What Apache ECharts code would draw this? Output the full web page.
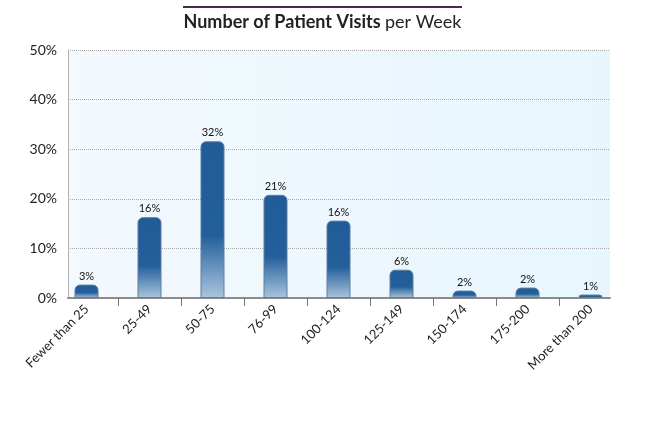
<!DOCTYPE html>
<html>
<head>
<meta charset="utf-8">
<script src="https://cdn.jsdelivr.net/npm/echarts@6/dist/echarts.min.js"></script>
<style>html,body{margin:0;padding:0;background:#fff}#c{width:645px;height:439px}</style>
</head>
<body>
<div id="c"></div>
<script>
var categories = ['Fewer than 25','25-49','50-75','76-99','100-124','125-149','150-174','175-200','More than 200'];
var visitShare = [2.7, 16.3, 31.6, 20.8, 15.6, 5.7, 1.5, 2.1, 0.7];
var yTicks = [0, 10, 20, 30, 40, 50];

var FONT = 'Lato, "Open Sans", sans-serif';
var chart = echarts.init(document.getElementById('c'), null, {renderer: 'canvas'});
chart.setOption({
  animation: false,
  textStyle: {fontFamily: FONT},
  title: {
    text: '{b|Number of Patient Visits} {n|per Week}',
    left: 'center', top: 8,
    textStyle: {
      rich: {
        b: {fontFamily: FONT, fontSize: 18, fontWeight: 'bold', color: '#222'},
        n: {fontFamily: FONT, fontSize: 18, fontWeight: 'normal', color: '#222'}
      }
    }
  },
  graphic: [{
    type: 'line', shape: {x1: 183, y1: 7, x2: 462, y2: 7},
    style: {stroke: '#4a2a4e', lineWidth: 2}
  }],
  grid: [
    {left: 68, right: 35, top: 50, bottom: 141, show: true, borderWidth: 0,
      backgroundColor: new echarts.graphic.LinearGradient(0, 0, 1, 0, [
        {offset: 0, color: '#f3f9fd'}, {offset: 1, color: '#e7f6fd'}])},
    {left: 55, right: 23, top: 50, bottom: 141},
    {left: 118, right: 86, top: 50, bottom: 141}
  ],
  xAxis: [
    {gridIndex: 0, type: 'category', data: categories, axisLabel: {show: false}, axisTick: {show: false},
      axisLine: {lineStyle: {color: '#8c8c8c', width: 2}}},
    {gridIndex: 1, type: 'category', data: categories, axisLine: {show: false}, axisTick: {show: false},
      axisLabel: {rotate: 45, interval: 0, fontSize: 13, color: '#222', margin: 9, fontFamily: FONT}},
    {gridIndex: 2, type: 'value', min: 0, max: 7, interval: 1, axisLine: {show: false},
      axisLabel: {show: false}, splitLine: {show: false},
      axisTick: {show: true, length: 8, lineStyle: {color: '#777', width: 1}}}
  ],
  yAxis: [
    {gridIndex: 0, type: 'value', min: yTicks[0], max: yTicks[yTicks.length - 1], interval: 10,
      axisLine: {show: true, lineStyle: {color: '#b0b0b0', width: 1}}, axisTick: {show: false},
      axisLabel: {formatter: '{value}%', fontSize: 14, color: '#222', margin: 11, fontFamily: FONT},
      splitLine: {lineStyle: {color: '#aaaaaa', type: 'dotted', width: 1}}},
    {gridIndex: 1, type: 'value', min: 0, max: 50, show: false},
    {gridIndex: 2, type: 'value', min: 0, max: 50, show: false}
  ],
  series: [{
    type: 'bar', xAxisIndex: 1, yAxisIndex: 1, data: visitShare, barWidth: 24,
    itemStyle: {
      borderRadius: [5, 5, 0, 0],
      borderColor: '#5f7f9f', borderWidth: 1,
      color: new echarts.graphic.LinearGradient(0, 0, 0, 1, [
        {offset: 0, color: '#225c98'}, {offset: 0.6, color: '#235f9b'}, {offset: 1, color: '#aac5de'}])
    },
    label: {show: true, position: 'top', distance: 3, fontSize: 11, color: '#111', fontFamily: FONT,
      formatter: function (p) { return Math.round(p.value) + '%'; }}
  }]
});
</script>
</body>
</html>
